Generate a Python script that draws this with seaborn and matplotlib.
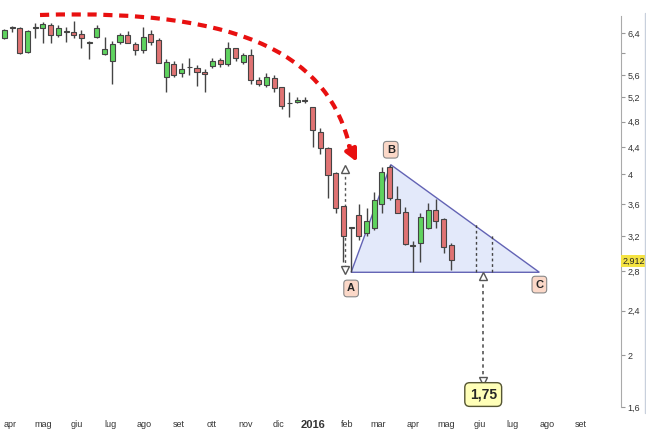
import datetime as dt

import matplotlib
matplotlib.use("Agg")
import matplotlib.dates as mdates
import matplotlib.pyplot as plt
import matplotlib.transforms as mtrans
import pandas as pd
import seaborn as sns
from matplotlib.patches import PathPatch, Polygon
from matplotlib.path import Path

# weekly candles, first week 2015-03-27
opens = [6.30, 6.50, 6.50, 6.02, 6.50, 6.50, 6.56, 6.36, 6.42, 6.42,
         6.38, 6.20, 6.32, 5.98, 5.85, 6.22, 6.36, 6.18, 6.06, 6.38,
         6.26, 5.56, 5.80, 5.64, 5.74, 5.72, 5.66, 5.76, 5.88, 5.80,
         6.10, 5.84, 5.96, 5.50, 5.42, 5.54, 5.38, 5.10, 5.12, 5.14,
         5.04, 4.64, 4.38, 4.02, 3.58, 3.30, 3.46, 3.24, 3.30, 3.60,
         4.10, 3.66, 3.50, 3.08, 3.12, 3.30, 3.52, 3.41, 3.09]
closes = [6.46, 6.50, 6.00, 6.44, 6.50, 6.58, 6.36, 6.50, 6.42, 6.36,
          6.30, 6.20, 6.50, 6.08, 6.18, 6.36, 6.20, 6.06, 6.32, 6.22,
          5.82, 5.84, 5.60, 5.70, 5.74, 5.66, 5.62, 5.86, 5.80, 6.10,
          5.92, 5.96, 5.50, 5.44, 5.56, 5.37, 5.06, 5.10, 5.16, 5.14,
          4.66, 4.38, 3.99, 3.55, 3.20, 3.30, 3.20, 3.38, 3.65, 4.04,
          3.68, 3.48, 3.11, 3.08, 3.44, 3.52, 3.38, 3.07, 2.92]
highs = [6.48, 6.54, 6.52, 6.46, 6.60, 6.62, 6.60, 6.56, 6.52, 6.64,
         6.46, 6.24, 6.56, 6.32, 6.24, 6.40, 6.44, 6.22, 6.52, 6.46,
         6.30, 5.90, 5.86, 5.82, 5.92, 5.78, 5.70, 5.92, 5.92, 6.22,
         6.10, 6.00, 6.08, 5.56, 5.64, 5.60, 5.38, 5.30, 5.20, 5.20,
         5.04, 4.70, 4.40, 4.04, 3.58, 3.30, 3.60, 3.55, 3.76, 4.10,
         4.14, 3.84, 3.56, 3.14, 3.49, 3.61, 3.66, 3.42, 3.12]
lows = [6.28, 6.42, 5.98, 6.00, 6.30, 6.20, 6.20, 6.32, 6.22, 6.30,
        6.10, 5.90, 6.30, 5.96, 5.44, 6.18, 6.20, 5.96, 6.00, 6.16,
        5.82, 5.29, 5.56, 5.56, 5.60, 5.40, 5.30, 5.72, 5.74, 5.76,
        5.86, 5.80, 5.44, 5.40, 5.38, 5.30, 5.00, 4.88, 5.10, 5.10,
        4.40, 4.30, 3.68, 3.49, 2.90, 2.79, 3.15, 3.20, 3.27, 3.49,
        3.65, 3.48, 3.10, 2.79, 2.90, 3.28, 3.30, 3.00, 2.82]

months_it = ["apr", "mag", "giu", "lug", "ago", "set", "ott", "nov", "dic",
             "2016", "feb", "mar", "apr", "mag", "giu", "lug", "ago", "set"]
y_ticks = [1.6, 2, 2.4, 2.8, 3.2, 3.6, 4, 4.4, 4.8, 5.2, 5.6, 6.0, 6.4]

# pattern points: A, B, C and target
point_a = (dt.date(2016, 2, 5), 2.79)
point_b = (dt.date(2016, 3, 12), 4.14)
point_c = (dt.date(2016, 7, 25), 2.79)
target = 1.75
last_price = 2.912

df = pd.DataFrame({"open": opens, "close": closes, "high": highs, "low": lows})
df["date"] = pd.date_range("2015-03-27", periods=len(df), freq="7D")
df["x"] = mdates.date2num(df["date"])
df["up"] = df["close"] >= df["open"]

sns.set_style("white")
plt.rcParams["font.family"] = ["Liberation Sans", "DejaVu Sans"]

fig = plt.figure(figsize=(6.46, 4.37), dpi=100)
ax = fig.add_axes([0, 0.055, 0.961, 0.945])
ax.set_yscale("function", functions=(lambda v: v ** 0.25, lambda v: v ** 4))

# wicks
ax.vlines(df["x"], df["low"], df["high"], color="#444444", lw=1, zorder=3)
# bodies
body_lo = df[["open", "close"]].min(axis=1)
body_h = (df["close"] - df["open"]).abs().clip(lower=0.012)
colors = df["up"].map({True: "#5fd35f", False: "#e07373"})
ax.bar(df["x"], body_h, bottom=body_lo, width=4.6, color=colors,
       edgecolor="#444444", lw=0.8, zorder=4)

xn = lambda d: mdates.date2num(d)

# triangle
tri = Polygon([(xn(point_a[0]), point_a[1]), (xn(point_b[0]), point_b[1]),
               (xn(point_c[0]), point_c[1])], closed=True,
              facecolor="#dfe6fa", edgecolor="#4a4aa8", lw=1, alpha=0.85, zorder=2)
ax.add_patch(tri)


def on_upper_edge(d):
    f = (xn(d) - xn(point_b[0])) / (xn(point_c[0]) - xn(point_b[0]))
    return point_b[1] + f * (point_c[1] - point_b[1])


for d in [dt.date(2016, 5, 28), dt.date(2016, 6, 12)]:
    ax.vlines(xn(d), point_a[1], on_upper_edge(d), color="#444444", lw=1,
              linestyles=(0, (2, 2)), zorder=3)

# left measuring arrow
xl = xn(dt.date(2016, 1, 30))
ax.vlines(xl, 2.84, 4.06, color="#555555", lw=1, linestyles=(0, (2, 2)), zorder=3)
ax.plot([xl], [4.08], marker="^", ms=6, mfc="white", mec="#555555", zorder=5)
ax.plot([xl], [2.81], marker="v", ms=6, mfc="white", mec="#555555", zorder=5)

# target arrow
xt = xn(dt.date(2016, 6, 4))
ax.vlines(xt, 1.79, 2.74, color="#555555", lw=1.2, linestyles=(0, (2, 2)), zorder=3)
ax.plot([xt], [2.75], marker="^", ms=6, mfc="white", mec="#555555", zorder=5)
ax.plot([xt], [1.79], marker="v", ms=6, mfc="white", mec="#555555", zorder=5)
ax.text(xt, 1.69, f"{target:.2f}".replace(".", ","), ha="center", va="center",
        fontsize=10, fontweight="bold", zorder=6,
        bbox=dict(boxstyle="round,pad=0.35", fc="#ffffb8", ec="#555533", lw=1))

lab_box = dict(boxstyle="round,pad=0.3", fc="#fbd8c8", ec="#888888", lw=0.8)
ax.text(xn(point_a[0]), 2.62, "A", ha="center", va="center", fontsize=8,
        fontweight="bold", bbox=lab_box, zorder=6)
ax.text(xn(point_b[0]), 4.36, "B", ha="center", va="center", fontsize=8,
        fontweight="bold", bbox=lab_box, zorder=6)
ax.text(xn(point_c[0]), 2.66, "C", ha="center", va="center", fontsize=8,
        fontweight="bold", bbox=lab_box, zorder=6)

# red dashed curve, drawn in figure pixels from the top-left corner
px = mtrans.Affine2D().scale(1 / 646, -1 / 437).translate(0, 1) + fig.transFigure
curve = Path([(40, 15), (250, 8), (330, 60), (350, 148)],
             [Path.MOVETO, Path.CURVE4, Path.CURVE4, Path.CURVE4])
fig.add_artist(PathPatch(curve, transform=px, fc="none", ec="#e81010", lw=3,
                         linestyle=(0, (2.2, 1.6)), zorder=5))
ax.annotate("", xy=(357, 162), xytext=(349, 146), xycoords=px, textcoords=px,
            arrowprops=dict(arrowstyle="-|>,head_width=0.35,head_length=0.7",
                            color="#e81010", lw=3, shrinkA=0, shrinkB=0), zorder=5)

# axes formatting
ax.set_xlim(xn(dt.date(2015, 3, 23)), xn(dt.date(2016, 10, 7)))
ax.set_ylim(1.558, 7.085)
month_starts = pd.date_range("2015-04-01", periods=len(months_it), freq="MS")
ax.set_xticks(mdates.date2num(month_starts))
ax.set_xticklabels(months_it, fontsize=6.5, color="#333333")
for t in ax.get_xticklabels():
    if t.get_text() == "2016":
        t.set_fontweight("bold")
        t.set_fontsize(8)
ax.yaxis.tick_right()
ax.set_yticks(y_ticks)
ax.set_yticklabels(["" if v == 6.0 else f"{v:g}".replace(".", ",") for v in y_ticks],
                   fontsize=6.5, color="#333333")
ax.tick_params(axis="both", length=3, width=0.8, color="#999999", pad=2)
for side in ["top", "left", "bottom"]:
    ax.spines[side].set_visible(False)
ax.spines["right"].set_color("#aaaaaa")
ax.spines["right"].set_bounds(1.6, 6.75)

# last price tag on the axis
ax.text(1.003, last_price, f"{last_price:.3f}".replace(".", ","),
        transform=ax.get_yaxis_transform(), fontsize=6.5, va="center", ha="left",
        bbox=dict(boxstyle="square,pad=0.15", fc="#f5e342", ec="none"), zorder=7)

fig.add_artist(plt.Line2D([0.998, 0.998], [0.055, 0.97], color="#c8d0dc", lw=1))
fig.savefig("out.png", dpi=100)
